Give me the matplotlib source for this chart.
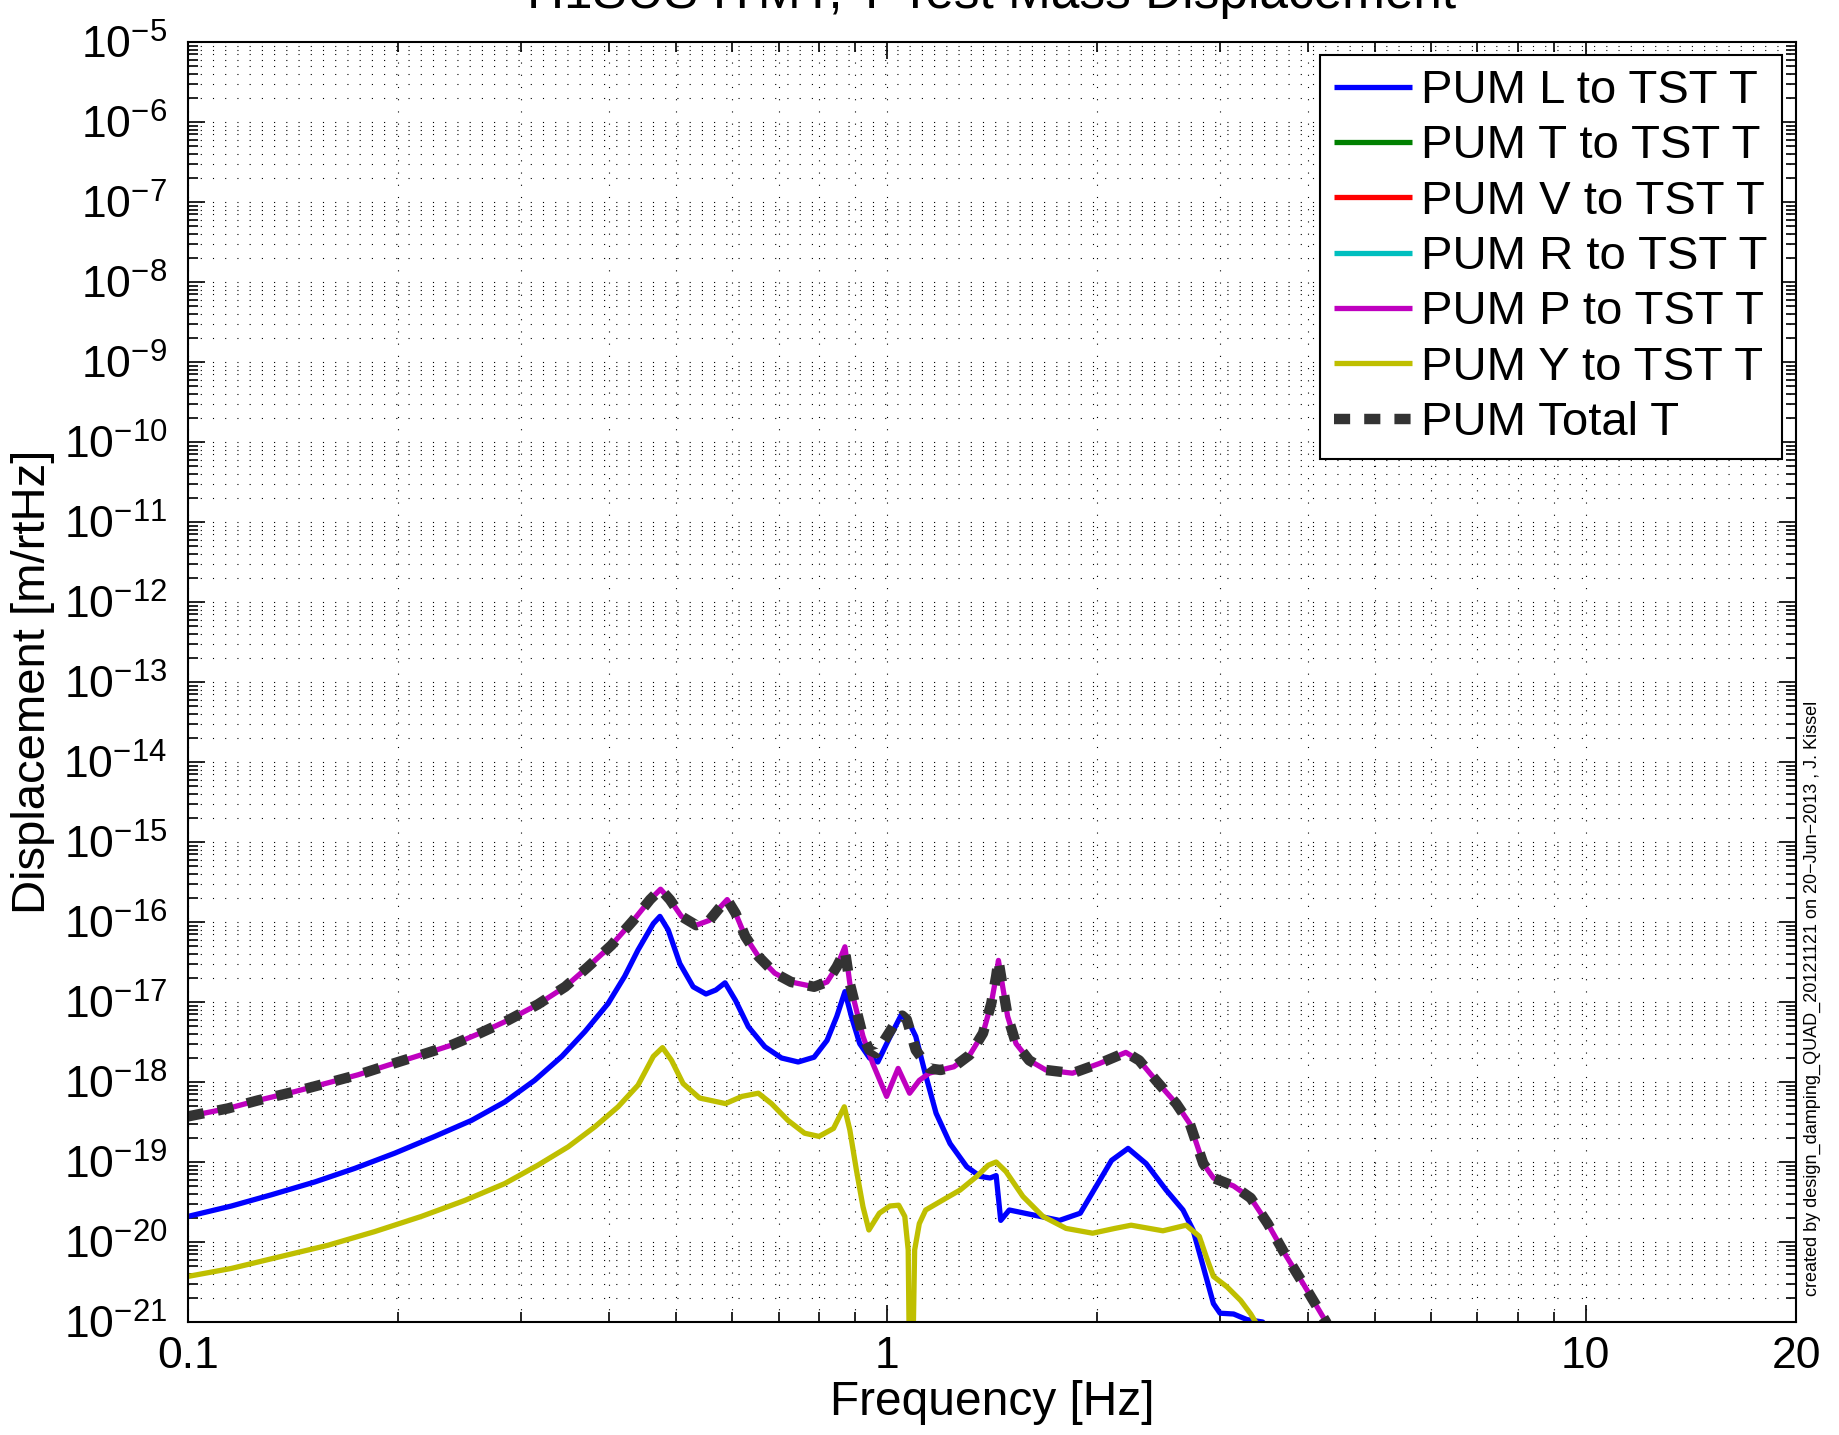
import numpy as np
import matplotlib
matplotlib.use('Agg')
import matplotlib.pyplot as plt
from matplotlib.ticker import LogLocator, FixedLocator, FixedFormatter, NullFormatter

plt.rcParams['font.family'] = ['Liberation Sans', 'DejaVu Sans']
plt.rcParams['mathtext.fontset'] = 'custom'
plt.rcParams['mathtext.rm'] = 'Liberation Sans'
plt.rcParams['mathtext.it'] = 'Liberation Sans:italic'
plt.rcParams['mathtext.bf'] = 'Liberation Sans:bold'

# ---- data (frequency in Hz, log10 of displacement in m/rtHz) ----
labels = ['PUM L to TST T', 'PUM T to TST T', 'PUM V to TST T', 'PUM R to TST T',
          'PUM P to TST T', 'PUM Y to TST T', 'PUM Total T']

L_f = [0.1, 0.1154, 0.1316, 0.1518, 0.1732, 0.1976, 0.2255, 0.2545, 0.2839, 0.3133, 0.3427,
       0.3698, 0.3991, 0.4215, 0.4405, 0.4633, 0.4735, 0.4866, 0.5056, 0.5283, 0.5511, 0.5693,
       0.5868, 0.6074, 0.6337, 0.6692, 0.7069, 0.7467, 0.7869, 0.8212, 0.848, 0.8711, 0.8898,
       0.9145, 0.9446, 0.9707, 1.01, 1.049, 1.075, 1.1, 1.1378, 1.1762, 1.2317, 1.3014, 1.36,
       1.4053, 1.4337, 1.4555, 1.497, 1.616, 1.766, 1.8915, 1.9915, 2.097, 2.2144, 2.35, 2.51,
       2.6536, 2.743, 2.837, 2.9334, 2.998, 3.135, 3.276, 3.45, 3.55]
L_y = [-19.68, -19.55, -19.41, -19.25, -19.08, -18.89, -18.68, -18.48, -18.25, -17.98, -17.68,
       -17.37, -17.02, -16.68, -16.35, -16.02, -15.93, -16.10, -16.52, -16.81, -16.90, -16.85,
       -16.76, -16.98, -17.31, -17.56, -17.70, -17.75, -17.69, -17.48, -17.18, -16.87, -17.18,
       -17.52, -17.70, -17.75, -17.44, -17.16, -17.25, -17.43, -17.93, -18.39, -18.77, -19.06, -19.18,
       -19.20, -19.17, -19.73, -19.60, -19.66, -19.73, -19.64, -19.31, -18.98, -18.83, -19.02, -19.35,
       -19.60, -19.85, -20.31, -20.77, -20.89, -20.90, -20.97, -21.0, -21.3]

T_f, T_y = [], []
V_f, V_y = [], []
R_f, R_y = [], []

P_f = [0.1, 0.1141, 0.1259, 0.1422, 0.1587, 0.1751, 0.1933, 0.2158, 0.2381, 0.2616, 0.2868,
       0.3167, 0.3465, 0.3737, 0.4036, 0.4337, 0.4584, 0.4745, 0.4893, 0.5083, 0.5336, 0.5571,
       0.5754, 0.591, 0.6074, 0.6272, 0.6549, 0.6913, 0.7297, 0.7869, 0.8212, 0.848, 0.8711,
       0.8853, 0.9046, 0.9245, 0.9549, 0.9992, 1.038, 1.078, 1.113, 1.15, 1.194, 1.2473, 1.3147,
       1.3728, 1.4106, 1.4337, 1.4445, 1.465, 1.489, 1.5306, 1.599, 1.689, 1.8436, 2.013, 2.198,
       2.297, 2.427, 2.5954, 2.7135, 2.7746, 2.837, 2.9334, 3.033, 3.135, 3.317, 3.508, 3.707,
       3.917, 4.114, 4.252, 4.35]
P_y = [-18.43, -18.33, -18.23, -18.12, -18.01, -17.91, -17.79, -17.66, -17.54, -17.39, -17.23,
       -17.03, -16.81, -16.56, -16.29, -15.98, -15.72, -15.59, -15.72, -15.93, -16.04, -15.98,
       -15.83, -15.72, -15.89, -16.18, -16.43, -16.64, -16.75, -16.81, -16.75, -16.56, -16.31,
       -16.77, -17.10, -17.43, -17.77, -18.18, -17.83, -18.14, -17.98, -17.89, -17.85, -17.81, -17.66,
       -17.39, -17.02, -16.68, -16.48, -16.81, -17.18, -17.52, -17.73, -17.85, -17.89, -17.77, -17.63,
       -17.73, -17.98, -18.27, -18.52, -18.77, -19.02, -19.20, -19.25, -19.30, -19.45, -19.77, -20.14,
       -20.48, -20.79, -21.0, -21.2]

Y_f = [0.1, 0.1154, 0.136, 0.1587, 0.185, 0.2158, 0.249, 0.2839, 0.3167, 0.35, 0.3821, 0.4125,
       0.4405, 0.4633, 0.4776, 0.492, 0.5111, 0.5395, 0.5877, 0.6205, 0.6549, 0.6838, 0.722,
       0.7626, 0.7997, 0.839, 0.8693, 0.8853, 0.9046, 0.9245, 0.9426, 0.9758, 1.01, 1.04, 1.061,
       1.073, 1.082, 1.096, 1.113, 1.1365, 1.2, 1.2733, 1.345, 1.397, 1.4337, 1.481, 1.5657,
       1.6725, 1.805, 1.97, 2.12, 2.237, 2.4835, 2.681, 2.8, 2.8636, 2.9334, 3.067, 3.208, 3.317,
       3.37, 3.42]
Y_y = [-20.43, -20.33, -20.18, -20.04, -19.87, -19.68, -19.48, -19.27, -19.04, -18.81, -18.56, -18.31,
       -18.04, -17.68, -17.57, -17.73, -18.02, -18.20, -18.27, -18.18, -18.14, -18.27, -18.48,
       -18.64, -18.68, -18.58, -18.31, -18.60, -19.10, -19.56, -19.85, -19.64, -19.55, -19.54, -19.68,
       -20.10, -23.0, -20.10, -19.77, -19.60, -19.48, -19.35, -19.18, -19.04, -19.00, -19.12, -19.43,
       -19.68, -19.83, -19.89, -19.83, -19.79, -19.86, -19.79, -19.93, -20.18, -20.43, -20.56, -20.73, -20.90,
       -21.0, -21.2]

Tot_f = [0.1, 0.1141, 0.1259, 0.1422, 0.1587, 0.1751, 0.1933, 0.2158, 0.2381, 0.2616, 0.2868,
         0.3167, 0.3465, 0.3737, 0.4036, 0.4337, 0.4584, 0.4745, 0.4893, 0.5083, 0.5336, 0.5571,
         0.5754, 0.591, 0.6074, 0.6272, 0.6549, 0.6913, 0.7297, 0.7869, 0.8212, 0.848, 0.8711,
         0.8853, 0.9046, 0.9245, 0.9446, 0.9653, 0.985, 1.01, 1.035, 1.052, 1.068, 1.1, 1.15,
         1.194, 1.2473, 1.3147, 1.3728, 1.4106, 1.4337, 1.4445, 1.465, 1.489, 1.5306, 1.599, 1.689,
         1.8436, 2.013, 2.198, 2.297, 2.427, 2.5954, 2.7135, 2.7746, 2.837, 2.9334, 3.033, 3.135,
         3.317, 3.508, 3.707, 3.917, 4.114, 4.252, 4.35]
Tot_y = [-18.43, -18.33, -18.23, -18.12, -18.01, -17.91, -17.79, -17.66, -17.54, -17.39, -17.23,
         -17.03, -16.81, -16.56, -16.29, -15.98, -15.72, -15.59, -15.72, -15.93, -16.04, -15.98,
         -15.83, -15.72, -15.89, -16.18, -16.43, -16.64, -16.75, -16.81, -16.75, -16.56, -16.36,
         -16.77, -17.10, -17.43, -17.60, -17.64, -17.52, -17.37, -17.22, -17.17, -17.22, -17.60, -17.83,
         -17.85, -17.81, -17.66, -17.39, -17.02, -16.68, -16.48, -16.81, -17.18, -17.52, -17.73, -17.85,
         -17.89, -17.77, -17.63, -17.73, -17.98, -18.27, -18.52, -18.77, -19.02, -19.20, -19.25, -19.30,
         -19.45, -19.77, -20.14, -20.48, -20.79, -21.0, -21.2]

colors = [(0, 0, 1), (0, 0.5, 0), (1, 0, 0), (0, 0.75, 0.75), (0.75, 0, 0.75), (0.75, 0.75, 0)]

W, H = 1839, 1435
fig = plt.figure(figsize=(W / 100, H / 100), dpi=100)
ax = fig.add_axes([188 / W, 1 - 1322 / H, (1796 - 188) / W, (1322 - 42) / H])

series = [(L_f, L_y), (T_f, T_y), (V_f, V_y), (R_f, R_y), (P_f, P_y), (Y_f, Y_y)]
lw = 3.8
for (f, y), c, lab in zip(series, colors, labels[:6]):
    ax.plot(f, 10.0 ** np.asarray(y, dtype=float), color=c, lw=lw, label=lab,
            solid_joinstyle='round', solid_capstyle='butt')
ax.plot(Tot_f, 10.0 ** np.asarray(Tot_y), color='#333333', lw=7.5, linestyle=(0, (1.55, 1.35)),
        label=labels[6])

ax.set_xscale('log')
ax.set_yscale('log')
ax.set_xlim(0.1, 20)
ax.set_ylim(1e-21, 1e-5)

ax.xaxis.set_major_locator(FixedLocator([0.1, 1, 10, 20]))
ax.xaxis.set_major_formatter(FixedFormatter(['0.1', '1', '10', '20']))
ax.xaxis.set_minor_locator(FixedLocator([0.2, 0.3, 0.4, 0.5, 0.6, 0.7, 0.8, 0.9,
                                         2, 3, 4, 5, 6, 7, 8, 9]))
ax.xaxis.set_minor_formatter(NullFormatter())
ax.yaxis.set_major_locator(LogLocator(base=10, numticks=100))
ax.yaxis.set_minor_locator(LogLocator(base=10, subs=np.arange(2, 10), numticks=100))
ax.yaxis.set_minor_formatter(NullFormatter())

ax.grid(True, which='both', linestyle=(0, (1, 10)), color='k', linewidth=0.8)
ax.tick_params(which='both', direction='in', top=True, right=True, width=1.2)
ax.tick_params(which='major', length=12, labelsize=32)
ax.tick_params(axis='x', which='major', pad=10)
ax.tick_params(axis='y', which='major', pad=15)
ax.tick_params(which='minor', length=7)
for s in ax.spines.values():
    s.set_linewidth(1.5)

ax.set_xlabel('Frequency [Hz]', fontsize=34.5, labelpad=2)
ax.set_ylabel('Displacement [m/rtHz]', fontsize=34, labelpad=6)

fig.text(992 / W, 1 - 8 / H, 'H1SUS ITMY, T Test Mass Displacement', fontsize=37,
         ha='center', va='baseline')

leg = ax.legend(loc='upper right', bbox_to_anchor=(1782 / W, 1 - 55 / H),
                bbox_transform=fig.transFigure, borderaxespad=0, fontsize=34,
                handlelength=1.64, handletextpad=0.2, labelspacing=0.24,
                borderpad=0.3, fancybox=False, framealpha=1, edgecolor='k')
leg.get_frame().set_linewidth(1.5)

fig.text(1812 / W, 1 - 1296 / H,
         'created by design_damping_QUAD_20121121 on 20\u2212Jun\u22122013 , J. Kissel',
         rotation=90, fontsize=13, ha='center', va='bottom')

fig.savefig('out.png', dpi=100)
